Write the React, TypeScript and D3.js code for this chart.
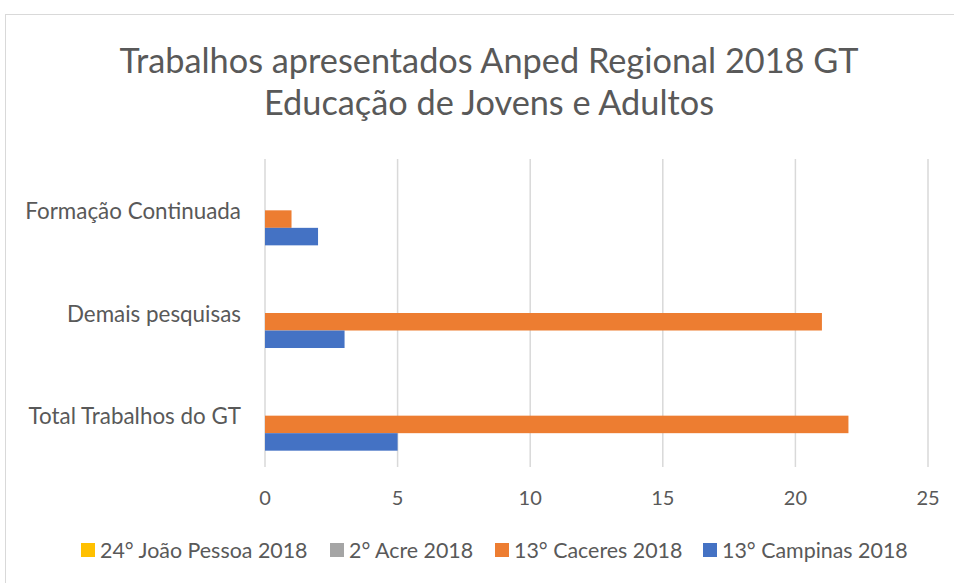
import React from "react";
import * as d3 from "d3";

const categories = ["Formação Continuada", "Demais pesquisas", "Total Trabalhos do GT"];
const seriesNames = ["24° João Pessoa 2018", "2° Acre 2018", "13° Caceres 2018", "13° Campinas 2018"];
const seriesColors = ["#FFC000", "#A5A5A5", "#ED7D31", "#4472C4"];
// values per series, in category order
const joaoPessoa = [0, 0, 0];
const acre = [0, 0, 0];
const caceres = [1, 21, 22];
const campinas = [2, 3, 5];
const xTicks = [0, 5, 10, 15, 20, 25];
const titleLines = ["Trabalhos apresentados Anped Regional 2018 GT", "Educação de Jovens e Adultos"];

const seriesValues = [joaoPessoa, acre, caceres, campinas];

const W = 954;
const H = 583;
const FONT = "Lato, 'Open Sans', sans-serif";
const TEXT = "#595959";

export default function App() {
  const x = d3.scaleLinear().domain([0, 25]).range([265, 928]);
  const y0 = d3
    .scaleBand<string>()
    .domain(categories)
    .range([159, 467])
    .paddingInner(0.318)
    .paddingOuter(0.159);
  const y1 = d3.scaleBand<string>().domain(seriesNames).range([0, y0.bandwidth()]);

  const legendX = [81, 330, 495, 703];

  return (
    <svg
      width={W}
      height={H}
      style={{ position: "absolute", left: 0, top: 0, background: "#fff" }}
      fontFamily={FONT}
    >
      <rect x={0} y={0} width={W} height={H} fill="#fff" />
      <rect x={5.5} y={14.5} width={1100} height={1000} fill="#fff" stroke="#d9d9d9" strokeWidth={1} />
      {titleLines.map((t, i) => (
        <text key={i} x={489} y={73 + i * 42} textAnchor="middle" fontSize={34.3} fill={TEXT}>
          {t}
        </text>
      ))}
      {xTicks.map((t) => (
        <g key={t}>
          <line x1={x(t)} x2={x(t)} y1={159} y2={467} stroke="#d9d9d9" strokeWidth={1.5} />
          <text x={x(t)} y={497} textAnchor="middle" dominantBaseline="central" fontSize={20} fill={TEXT}>
            {t}
          </text>
        </g>
      ))}
      {categories.map((c, ci) => (
        <g key={c}>
          <text
            x={241}
            y={(y0(c) as number) + y0.bandwidth() / 2}
            textAnchor="end"
            dominantBaseline="central"
            fontSize={22.4}
            fill={TEXT}
          >
            {c}
          </text>
          {seriesNames.map((s, si) => {
            const v = seriesValues[si][ci];
            if (v <= 0) return null;
            return (
              <rect
                key={s}
                x={x(0)}
                y={(y0(c) as number) + (y1(s) as number)}
                width={x(v) - x(0)}
                height={y1.bandwidth()}
                fill={seriesColors[si]}
              />
            );
          })}
        </g>
      ))}
      {seriesNames.map((s, si) => (
        <g key={s}>
          <rect x={legendX[si]} y={543} width={14} height={14} fill={seriesColors[si]} />
          <text x={legendX[si] + 19} y={550} dominantBaseline="central" fontSize={21.4} fill={TEXT}>
            {s}
          </text>
        </g>
      ))}
    </svg>
  );
}
